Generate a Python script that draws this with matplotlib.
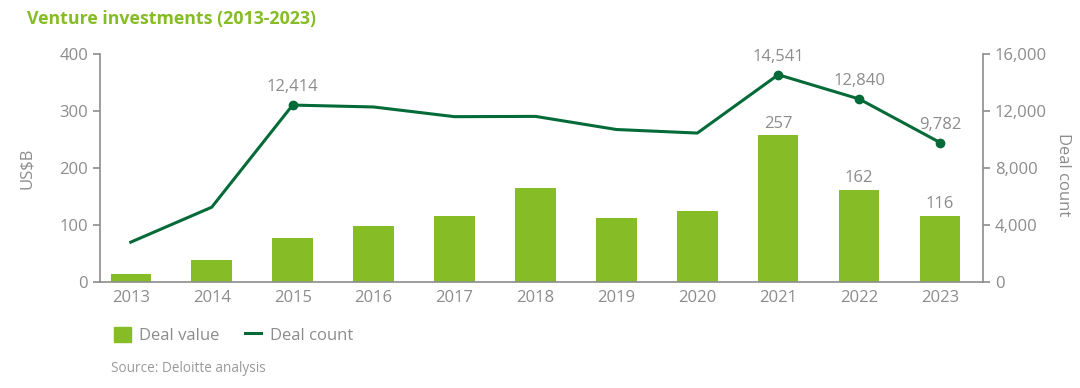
import numpy as np
import matplotlib.pyplot as plt
from matplotlib.patches import Patch
from matplotlib.lines import Line2D

plt.rcParams['font.family'] = ['Open Sans', 'DejaVu Sans']

years = ['2013', '2014', '2015', '2016', '2017', '2018', '2019', '2020', '2021', '2022', '2023']
deal_value = [14, 38, 77, 98, 116, 165, 112, 125, 257, 162, 116]
deal_count = [2800, 5250, 12414, 12280, 11600, 11620, 10700, 10450, 14541, 12840, 9782]
value_labels = {8: '257', 9: '162', 10: '116'}
count_labels = {2: '12,414', 8: '14,541', 9: '12,840', 10: '9,782'}

bar_green = '#86BC25'
line_green = '#046A38'
grey = '#8C8C8C'
axis_grey = '#8C8C8C'
fs = 12

fig = plt.figure(figsize=(10.8, 3.88), dpi=100)
ax = fig.add_axes([0.0926, 0.273, 0.8176, 0.588])
ax2 = ax.twinx()

x = np.arange(len(years))
ax.bar(x, deal_value, width=0.5, color=bar_green, zorder=2)
for i, lab in value_labels.items():
    ax.text(x[i], deal_value[i] + 6, lab, ha='center', va='bottom', color=grey, fontsize=fs)

ax2.plot(x, deal_count, color=line_green, linewidth=2.2, zorder=3)
idx = list(count_labels.keys())
ax2.plot(x[idx], [deal_count[i] for i in idx], 'o', color=line_green, markersize=6, zorder=4)
for i, lab in count_labels.items():
    ax2.text(x[i], deal_count[i] + 700, lab, ha='center', va='bottom', color=grey, fontsize=fs)

ax.set_xlim(-0.38, 10.53)
ax.set_ylim(0, 400)
ax2.set_ylim(0, 16000)
ax.set_yticks([0, 100, 200, 300, 400])
ax2.set_yticks([0, 4000, 8000, 12000, 16000])
ax2.set_yticklabels(['0', '4,000', '8,000', '12,000', '16,000'])
ax.set_xticks(x)
ax.set_xticklabels(years)

for a in (ax, ax2):
    a.spines['top'].set_visible(False)
    for s in ('left', 'right', 'bottom'):
        a.spines[s].set_color(axis_grey)
        a.spines[s].set_linewidth(1.2)
    a.tick_params(colors=grey, labelsize=fs, length=5, width=1.2)
ax.tick_params(axis='x', length=0, pad=6)
ax.spines['right'].set_visible(False)
ax2.spines['left'].set_visible(False)
ax2.spines['bottom'].set_visible(False)

ax.set_ylabel('US$B', color=grey, fontsize=fs)
ax.yaxis.set_label_coords(-0.074, 0.5)
ax2.set_ylabel('Deal count', color=grey, fontsize=fs, rotation=270, va='center')
ax2.yaxis.set_label_coords(1.091, 0.47)

fig.text(0.025, 0.975, 'Venture investments (2013-2023)', color=bar_green,
         fontsize=12.8, fontweight='bold', ha='left', va='top')

handles = [Patch(color=bar_green), Line2D([0], [0], color=line_green, linewidth=2.2)]
fig.legend(handles, ['Deal value', 'Deal count'], loc='center left',
           bbox_to_anchor=(0.092, 0.136), ncol=2, frameon=False, fontsize=fs,
           labelcolor=grey, handlelength=1.0, handleheight=1.0, columnspacing=1.5,
           handletextpad=0.5)

fig.text(0.103, 0.05, 'Source: Deloitte analysis', color='#9A9A9A', fontsize=9.8,
         ha='left', va='center')

fig.savefig('out.png', dpi=100)
